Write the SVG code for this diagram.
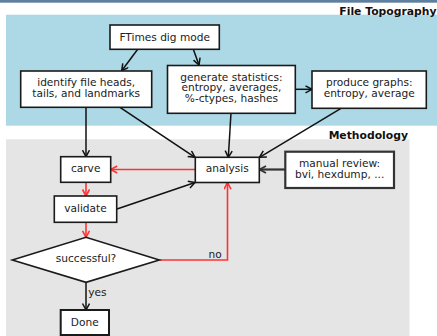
<svg xmlns="http://www.w3.org/2000/svg" width="437" height="336" viewBox="0 0 437 336">
<style>
.box{fill:#fff;stroke:#1a1a1a;stroke-width:1.6}
.t{font-family:"DejaVu Sans",sans-serif;font-size:10.6px;fill:#222;text-anchor:middle}
.lbl{font-family:"DejaVu Sans",sans-serif;font-size:10.6px;fill:#222}
.title{font-family:"DejaVu Sans",sans-serif;font-size:10.8px;font-weight:bold;fill:#111;text-anchor:end}
.blk{fill:none;stroke:#111;stroke-width:1.5;marker-end:url(#ab)}
.red{fill:none;stroke:#f33;stroke-width:1.6;marker-end:url(#ar)}
.gry{fill:none;stroke:#333;stroke-width:2.2;marker-end:url(#ag)}
</style>
<defs>
<marker id="ab" markerUnits="userSpaceOnUse" markerWidth="10" markerHeight="10" refX="7" refY="4" orient="auto" viewBox="0 0 10 10"><path d="M0.5,0.5 L7,4 L0.5,7.5" fill="none" stroke="#111" stroke-width="1.5"/></marker>
<marker id="ar" markerUnits="userSpaceOnUse" markerWidth="10" markerHeight="10" refX="7" refY="4" orient="auto" viewBox="0 0 10 10"><path d="M0.5,0.5 L7,4 L0.5,7.5" fill="none" stroke="#f33" stroke-width="1.6"/></marker>
<marker id="ag" markerUnits="userSpaceOnUse" markerWidth="10" markerHeight="10" refX="7" refY="4" orient="auto" viewBox="0 0 10 10"><path d="M0.5,0.5 L7,4 L0.5,7.5" fill="none" stroke="#333" stroke-width="1.8"/></marker>
</defs>
<rect x="0" y="0" width="437" height="336" fill="#fff"/>
<rect x="0" y="0" width="437" height="2.7" fill="#5f7f9f"/>
<g id="cluster-topography">
<rect x="6" y="14.7" width="431" height="111" fill="#add8e6"/>
<text class="title" x="436.5" y="15.3">File Topography</text>
</g>
<g id="cluster-methodology">
<rect x="6" y="139.3" width="403.5" height="197" fill="#e5e5e5"/>
<text class="title" x="408" y="139">Methodology</text>
</g>
<g id="connectors">
<line class="blk" x1="137.7" y1="49.3" x2="121.7" y2="70.7"/>
<line class="blk" x1="193.3" y1="49.3" x2="199" y2="65"/>
<line class="blk" x1="295.3" y1="89.3" x2="312" y2="89.3"/>
<line class="blk" x1="86" y1="107.3" x2="86" y2="156.7"/>
<line class="blk" x1="120" y1="107.3" x2="195" y2="157.3"/>
<line class="blk" x1="231" y1="113.3" x2="228.3" y2="157.3"/>
<line class="blk" x1="341" y1="108.3" x2="259.5" y2="157.3"/>
<line class="blk" x1="117" y1="209" x2="195" y2="182.5"/>
<line class="gry" x1="285.3" y1="169.5" x2="259.5" y2="169.5"/>
<line class="blk" x1="86" y1="282.3" x2="86" y2="310"/>
<line class="red" x1="195" y1="169.5" x2="110.7" y2="169.5"/>
<line class="red" x1="86" y1="182.3" x2="86" y2="196"/>
<line class="red" x1="86" y1="222.3" x2="86" y2="237.3"/>
<polyline class="red" points="159.3,260 227.5,260 227.5,182.7"/>
<text class="lbl" x="208.5" y="257.5">no</text>
<text class="lbl" x="88.3" y="296">yes</text>
</g>
<g id="ftimes">
<rect class="box" x="110" y="25" width="109.3" height="24.3"/>
<text class="t" x="164.7" y="40.5">FTimes dig mode</text>
</g>
<g id="identify">
<rect class="box" x="20.7" y="71" width="131" height="36.3"/>
<text class="t" x="86.2" y="86">identify file heads,</text>
<text class="t" x="86.2" y="96.8">tails, and landmarks</text>
</g>
<g id="generate">
<rect class="box" x="167.5" y="65.5" width="127.8" height="47.8"/>
<text class="t" x="231.4" y="80.6">generate statistics:</text>
<text class="t" x="231.4" y="91.4">entropy, averages,</text>
<text class="t" x="231.4" y="102.2">%-ctypes, hashes</text>
</g>
<g id="produce">
<rect class="box" x="312" y="71" width="114.3" height="37.3"/>
<text class="t" x="369.2" y="86">produce graphs:</text>
<text class="t" x="369.2" y="96.8">entropy, average</text>
</g>
<g id="carve">
<rect class="box" x="60.7" y="156.7" width="50" height="25.6"/>
<text class="t" x="85.7" y="171.5">carve</text>
</g>
<g id="validate">
<rect class="box" x="54.3" y="196" width="62.4" height="26.3"/>
<text class="t" x="85.5" y="211.7">validate</text>
</g>
<g id="analysis">
<rect class="box" x="195.3" y="157.3" width="64" height="25.2"/>
<text class="t" x="227.3" y="172">analysis</text>
</g>
<g id="manual">
<rect class="box" x="285.3" y="151.7" width="108.7" height="36.3" style="stroke:#333;stroke-width:2.2"/>
<text class="t" x="339.6" y="166.7">manual review:</text>
<text class="t" x="339.6" y="177.5">bvi, hexdump, ...</text>
</g>
<g id="decision">
<polygon class="box" points="12.3,260 86,237.3 159.3,260 86,282.3"/>
<text class="t" x="86" y="262">successful?</text>
</g>
<g id="done">
<rect class="box" x="60.7" y="310" width="48.3" height="25" style="stroke-width:2"/>
<text class="t" x="84.8" y="325.7">Done</text>
</g>
</svg>
